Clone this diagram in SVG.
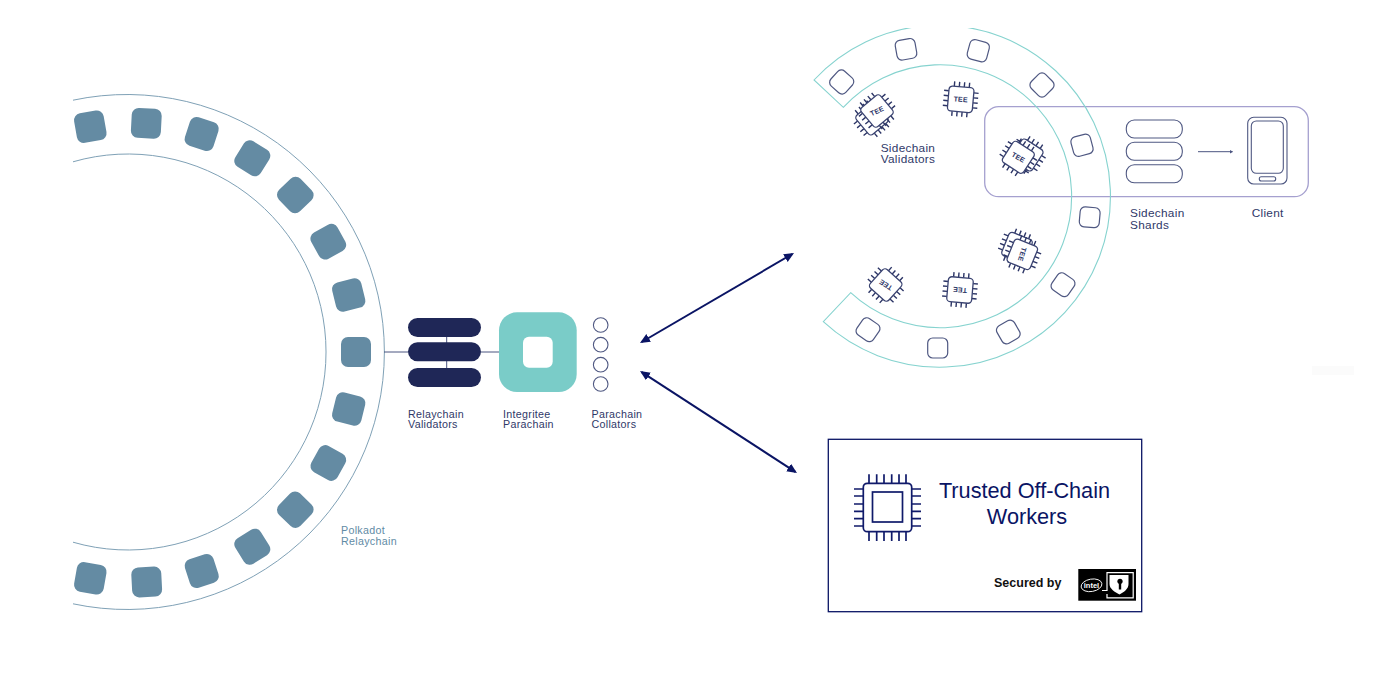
<svg xmlns="http://www.w3.org/2000/svg" width="1378" height="700" viewBox="0 0 1378 700">
<style>
text{font-family:"Liberation Sans",Arial,sans-serif}
.lbl{font-size:10.7px;fill:#2f3868;letter-spacing:.3px}
.lbl2{font-size:11.8px;fill:#2f3868;letter-spacing:.3px}
.pk{font-size:10.7px;fill:#5f8ba5;letter-spacing:.3px}
.wire{fill:none;stroke:#4b5480;stroke-width:1}
.ringL{fill:none;stroke:#7fa1b6;stroke-width:1}
.ringR{fill:none;stroke:#86d3cf;stroke-width:1.1}
.sq{fill:#648ba3}
.osq{fill:#fff;stroke:#4f5882;stroke-width:1.2}
.pill{fill:#1f2757}
.out{fill:#fff;stroke:#4f5882;stroke-width:1.1}
.pin{fill:none;stroke:#2c3566;stroke-width:1.4}
.chipb{fill:#fff;stroke:#3a4371;stroke-width:1.3}
.tee{font-size:7px;font-weight:700;fill:#2c3566;text-anchor:middle;letter-spacing:.2px}
.big{font-size:21.7px;fill:#0a1464;text-anchor:middle}
.tw{fill:none;stroke:#101a6a;stroke-width:1.7}
</style>
<defs>
<clipPath id="topcut"><rect x="790" y="28" width="340" height="350"/></clipPath>
<marker id="ah" markerUnits="userSpaceOnUse" markerWidth="10" markerHeight="10" refX="8" refY="4.5" orient="auto-start-reverse"><path d="M0,0L10,4.5L0,9z" fill="#0a1464"/></marker>
<marker id="sm" markerUnits="userSpaceOnUse" markerWidth="5" markerHeight="5" refX="3" refY="2" orient="auto"><path d="M0,0L3.5,2L0,4z" fill="#4b5480"/></marker>
<rect id="s" class="sq" x="-15" y="-15" width="30" height="30" rx="7"/>
<rect id="o" class="osq" x="-10" y="-10" width="20" height="20" rx="5"/>
<g id="chip">
<path class="pin" d="M-7.5,-12.5v-4.8M-2.5,-12.5v-4.8M2.5,-12.5v-4.8M7.5,-12.5v-4.8M-7.5,12.5v4.8M-2.5,12.5v4.8M2.5,12.5v4.8M7.5,12.5v4.8M-12.5,-7.5h-4.8M-12.5,-2.5h-4.8M-12.5,2.5h-4.8M-12.5,7.5h-4.8M12.5,-7.5h4.8M12.5,-2.5h4.8M12.5,2.5h4.8M12.5,7.5h4.8"/>
<rect class="chipb" x="-12.5" y="-12.5" width="25" height="25" rx="3.5"/>
</g>
</defs>
<rect x="1312" y="366" width="42" height="9" fill="#fbfbfb"/>

<g id="polkadot-relaychain">
<path class="ringL" d="M73,100.2A257.5,257.5 0 1 1 73,603.8"/>
<path class="ringL" d="M73,161.8A198,198 0 1 1 73,542.2"/>
<use href="#s" transform="translate(90.3,126.7) rotate(-10)"/>
<use href="#s" transform="translate(146.3,123.3) rotate(3)"/>
<use href="#s" transform="translate(201.7,134) rotate(18)"/>
<use href="#s" transform="translate(252.3,158.3) rotate(32)"/>
<use href="#s" transform="translate(295.3,195) rotate(46)"/>
<use href="#s" transform="translate(328.3,241.7) rotate(61)"/>
<use href="#s" transform="translate(348.7,295) rotate(76)"/>
<use href="#s" transform="translate(356,352)"/>
<use href="#s" transform="translate(348.7,409) rotate(-76)"/>
<use href="#s" transform="translate(328.3,463) rotate(-61)"/>
<use href="#s" transform="translate(295.3,509.7) rotate(-46)"/>
<use href="#s" transform="translate(252.3,546.7) rotate(-32)"/>
<use href="#s" transform="translate(201.7,571) rotate(-18)"/>
<use href="#s" transform="translate(146.7,582) rotate(-3)"/>
<use href="#s" transform="translate(90.3,578.3) rotate(10)"/>
<text class="pk" x="341" y="534">Polkadot</text>
<text class="pk" x="341" y="545">Relaychain</text>
</g>

<g id="connectors">
<path class="wire" d="M384,352H408M481,352H499M446.7,336V368"/>
<line x1="641.7" y1="342" x2="792.3" y2="254" stroke="#0a1464" stroke-width="2" marker-start="url(#ah)" marker-end="url(#ah)"/>
<line x1="641.7" y1="372.1" x2="795.3" y2="471.9" stroke="#0a1464" stroke-width="2" marker-start="url(#ah)" marker-end="url(#ah)"/>
<line x1="1198" y1="151.7" x2="1232.5" y2="151.7" stroke="#4b5480" stroke-width="1" marker-end="url(#sm)"/>
</g>

<g id="relaychain-validators">
<rect class="pill" x="408" y="318" width="73" height="19" rx="9.5"/>
<rect class="pill" x="408" y="342.3" width="73" height="19" rx="9.5"/>
<rect class="pill" x="408" y="368" width="73" height="19" rx="9.5"/>
<text class="lbl" x="408" y="418">Relaychain</text>
<text class="lbl" x="408" y="428.3">Validators</text>
</g>

<g id="integritee-parachain">
<rect x="499" y="312.3" width="77.7" height="79.7" rx="18" fill="#7accc8"/>
<rect x="523" y="336.7" width="29.7" height="31" rx="6" fill="#fff"/>
<text class="lbl" x="503" y="418">Integritee</text>
<text class="lbl" x="503" y="428.3">Parachain</text>
</g>

<g id="parachain-collators">
<circle class="out" cx="600.7" cy="325" r="7.3"/>
<circle class="out" cx="600.7" cy="344.7" r="7.3"/>
<circle class="out" cx="600.7" cy="364.7" r="7.3"/>
<circle class="out" cx="600.7" cy="384" r="7.3"/>
<text class="lbl" x="591.5" y="418">Parachain</text>
<text class="lbl" x="591.5" y="428.3">Collators</text>
</g>

<g id="client-panel">
<rect x="984.7" y="106.7" width="323.6" height="90" rx="14" fill="none" stroke="#a5a0cf" stroke-width="1.3"/>
</g>

<g id="sidechain-ring">
<path class="ringR" clip-path="url(#topcut)" d="M814,80A171,171 0 1 1 823.3,321.7L850.7,292.7A131.5,131.5 0 1 0 843.3,107.3Z"/>
<use href="#o" transform="translate(841.7,82) rotate(42)"/>
<use href="#o" transform="translate(906,49.3) rotate(-10)"/>
<use href="#o" transform="translate(978.3,50.7) rotate(15)"/>
<use href="#o" transform="translate(1042,85) rotate(45)"/>
<use href="#o" transform="translate(1082,145.3) rotate(-15)"/>
<use href="#o" transform="translate(1089.7,217.3) rotate(5)"/>
<use href="#o" transform="translate(1063,284.7) rotate(35)"/>
<use href="#o" transform="translate(1008.3,332) rotate(-30)"/>
<use href="#o" transform="translate(937.7,348)"/>
<use href="#o" transform="translate(868,329.7) rotate(35)"/>
</g>

<g id="sidechain-validators">
<use href="#chip" transform="translate(872,118.7) rotate(-40)"/>
<use href="#chip" transform="translate(877,111) rotate(-40)"/>
<text class="tee" transform="translate(877,111) rotate(-25)" y="2.5">TEE</text>
<use href="#chip" transform="translate(960.7,99.3) rotate(5)"/>
<text class="tee" transform="translate(960.7,99.3) rotate(5)" y="2.5">TEE</text>
<use href="#chip" transform="translate(1027,155) rotate(33)"/>
<use href="#chip" transform="translate(1018.3,157.3) rotate(33)"/>
<text class="tee" transform="translate(1018.3,157.3) rotate(30)" y="2.5">TEE</text>
<use href="#chip" transform="translate(1017,247.6) rotate(112)"/>
<use href="#chip" transform="translate(1022.3,254.3) rotate(112)"/>
<text class="tee" transform="translate(1022.3,254.3) rotate(108)" y="2.5">TEE</text>
<use href="#chip" transform="translate(960,290) rotate(185)"/>
<text class="tee" transform="translate(960,290) rotate(185)" y="2.5">TEE</text>
<use href="#chip" transform="translate(885.7,285) rotate(222)"/>
<text class="tee" transform="translate(885.7,285) rotate(213)" y="2.5">TEE</text>
<text class="lbl2" x="880.7" y="152">Sidechain</text>
<text class="lbl2" x="880.7" y="163">Validators</text>
</g>

<g id="sidechain-shards">
<rect class="out" x="1126.3" y="120" width="56" height="18" rx="8"/>
<rect class="out" x="1126.3" y="142.3" width="56" height="18" rx="8"/>
<rect class="out" x="1126.3" y="164.7" width="56" height="18" rx="8"/>
<text class="lbl2" x="1130" y="217">Sidechain</text>
<text class="lbl2" x="1130" y="229">Shards</text>
</g>

<g id="client">
<rect class="out" x="1247.7" y="117.3" width="39.3" height="66.7" rx="6"/>
<rect class="out" x="1251.3" y="121" width="32" height="52.3" rx="5"/>
<rect class="out" x="1259.3" y="176.7" width="16.4" height="4.3" rx="2"/>
<text class="lbl2" x="1251.7" y="217">Client</text>
</g>

<g id="trusted-off-chain-workers">
<rect x="828.3" y="439.3" width="313.4" height="172.4" fill="#fff" stroke="#0a1464" stroke-width="1.3"/>
<rect class="tw" x="863.3" y="483.3" width="48.4" height="48.4" rx="4"/>
<rect class="tw" x="872.5" y="492" width="30" height="30"/>
<path class="tw" d="M869,474.3V483M876.7,474.3V483M884,474.3V483M891.7,474.3V483M899,474.3V483M906,474.3V483M869,532V541M876.7,532V541M884,532V541M891.7,532V541M899,532V541M906,532V541M854,489H863M854,496H863M854,504H863M854,511.3H863M854,518.7H863M854,526H863M912,489H921M912,496H921M912,504H921M912,511.3H921M912,518.7H921M912,526H921"/>
<text class="big" x="1024.5" y="497.7">Trusted Off-Chain</text>
<text class="big" x="1027" y="524">Workers</text>
<text x="994" y="586.7" font-size="12.5" font-weight="700" fill="#111">Secured by</text>
<rect x="1078.3" y="569" width="57.7" height="31.7" fill="#000"/>
<ellipse cx="1091.5" cy="585.3" rx="10.5" ry="6.2" transform="rotate(-10 1091.5 585.3)" fill="none" stroke="#fff" stroke-width=".9"/>
<text x="1091.5" y="588" font-size="7.5" font-weight="700" fill="#fff" text-anchor="middle">intel</text>
<path d="M1102,590.5H1107V572.6H1133.2V597.8H1107V594" fill="none" stroke="#fff" stroke-width="1.2"/>
<path d="M1109.5,575H1128.5V584C1128.5,589 1124,592 1119.5,594.5C1115,592 1109.5,589 1109.5,584Z" fill="#fff"/>
<circle cx="1120" cy="581.3" r="2.6" fill="#000"/>
<rect x="1118.8" y="582" width="2.4" height="7.5" fill="#000"/>
</g>
</svg>
